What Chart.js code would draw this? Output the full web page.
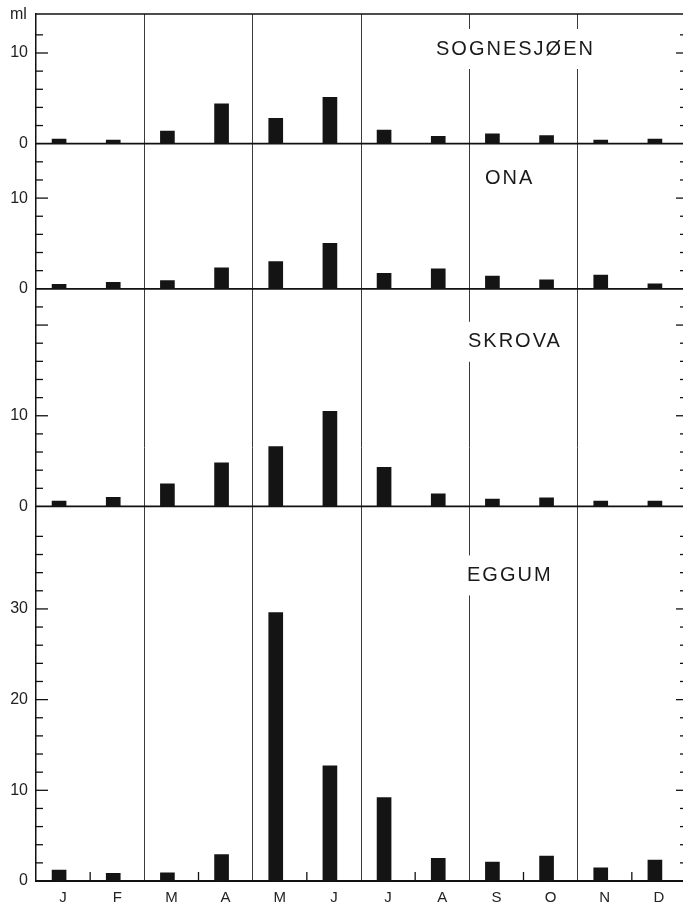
<!DOCTYPE html>
<html><head><meta charset="utf-8">
<script src="https://cdn.jsdelivr.net/npm/chart.js@4/dist/chart.umd.min.js"></script>
<style>
html,body{margin:0;padding:0;background:#fff;overflow:hidden;width:683px;height:906px;}
#wrap{position:absolute;left:0;top:0;width:690px;height:906px;}
</style></head><body>
<div id="wrap"><canvas id="c"></canvas></div>
<script>
// ---- data ----
const months = ['J','F','M','A','M','J','J','A','S','O','N','D'];
const stations = ['SOGNESJØEN','ONA','SKROVA','EGGUM'];
const sognesjoen = [0.5,0.4,1.4,4.4,2.8,5.1,1.5,0.8,1.1,0.9,0.4,0.5];
const ona        = [0.5,0.7,0.9,2.3,3.0,5.0,1.7,2.2,1.4,1.0,1.5,0.55];
const skrova     = [0.6,1.0,2.5,4.8,6.6,10.5,4.3,1.4,0.8,0.95,0.6,0.6];
const eggum      = [1.2,0.85,0.9,2.9,29.6,12.7,9.2,2.5,2.1,2.75,1.45,2.3];
const axisMax    = [14.3,16,24,41.3];
const tickTop    = [12,14,22,38];
const tickLabels = [[0,10],[0,10],[0,10],[0,10,20,30]];
const unitLabel  = 'ml';

// ---- style ----
const series = [sognesjoen, ona, skrova, eggum];
const axisIds = ['ySogn','yOna','ySkrova','yEggum'];
const barShift = 0.074;
const labelPos = [{x:436,dy:35},{x:485,dy:35},{x:468,dy:53},{x:467,dy:69}];
const FONT = 'Liberation Sans';

function yScale(p){
  return {
    type:'linear', position:'left', stack:'panels', stackWeight:axisMax[p],
    min:0, max:axisMax[p], offset:false,
    grid:{display:false, drawTicks:false},
    border:{display:true, color:'#111', width:1.5},
    ticks:{stepSize:2, includeBounds:false, autoSkip:false, padding:8, color:'#222',
      font:{family:FONT, size:16},
      callback:(v)=> v>tickTop[p] ? null : (tickLabels[p].includes(v) ? String(v) : '')},
    afterFit:(s)=>{ s.width = 36; s.paddingTop = 0; s.paddingBottom = 0; }
  };
}

const scales = {
  x:{type:'category', labels:months, offset:true, position:'bottom',
     grid:{offset:true, drawTicks:false, lineWidth:1,
       color:(ctx)=> (ctx.index>0 && ctx.index<12 && ctx.index%2===0) ? '#3a3a3a' : 'rgba(0,0,0,0)'},
     border:{display:false},
     ticks:{color:'#222', font:{family:FONT, size:15}, padding:8, maxRotation:0, autoSkip:false},
     afterFit:(s)=>{ s.height = 25; s.paddingLeft = 0; s.paddingRight = 0; }},
  xb:{type:'linear', display:false, position:'bottom', offset:false, grid:{offset:false},
      min:-0.5+barShift, max:11.5+barShift}
};
[3,2,1,0].forEach(p=>{ scales[axisIds[p]] = yScale(p); });

function line(ctx,x1,y1,x2,y2){ ctx.beginPath(); ctx.moveTo(x1,y1); ctx.lineTo(x2,y2); ctx.stroke(); }

const decor = {
  id:'decor',
  beforeDatasetsDraw(chart){
    const {ctx, chartArea:a} = chart;
    ctx.save();
    ctx.strokeStyle = '#111';
    axisIds.forEach(id=>{
      const s = chart.scales[id];
      const y0 = s.getPixelForValue(0);
      ctx.lineWidth = 1.8;
      line(ctx, a.left, y0, a.right, y0);
      s.ticks.forEach(t=>{
        if (t.label === null || t.value <= 0) return;
        const yy = s.getPixelForValue(t.value);
        const major = t.value % 10 === 0;
        ctx.lineWidth = 1.3;
        line(ctx, a.left, yy, a.left + (major?12:7), yy);
        line(ctx, a.right, yy, a.right - (major?10:6), yy);
      });
    });
    ctx.lineWidth = 1.5;
    line(ctx, a.left, a.top, a.right, a.top);
    // small month ticks at bottom
    const xs = chart.scales.x;
    ctx.lineWidth = 1.3;
    for (let i=1;i<12;i+=2){
      const xx = (xs.getPixelForTick(i-1) + xs.getPixelForTick(i))/2;
      line(ctx, xx, a.bottom, xx, a.bottom-9);
    }
    // panel labels
    ctx.font = '20px "' + FONT + '"';
    ctx.letterSpacing = '2px';
    ctx.textBaseline = 'middle';
    ctx.textAlign = 'left';
    axisIds.forEach((id,p)=>{
      const s = chart.scales[id];
      const yc = s.top + labelPos[p].dy;
      const w = ctx.measureText(stations[p]).width;
      ctx.fillStyle = '#fff';
      ctx.fillRect(labelPos[p].x-4, yc-20, w+8, 40);
      ctx.fillStyle = '#1a1a1a';
      ctx.fillText(stations[p], labelPos[p].x, yc);
    });
    ctx.letterSpacing = '0px';
    ctx.font = '16px "' + FONT + '"';
    ctx.fillStyle = '#222';
    ctx.textBaseline = 'alphabetic';
    ctx.fillText(unitLabel, 10, 19);
    ctx.restore();
  }
};

new Chart(document.getElementById('c'), {
  type:'bar',
  data:{
    datasets: series.map((vals,p)=>({
      label: stations[p],
      data: vals.map((v,i)=>({x:i, y:v})),
      xAxisID:'xb', yAxisID:axisIds[p],
      backgroundColor:'#141414', borderWidth:0,
      barThickness:14, grouped:false
    }))
  },
  options:{
    responsive:true, maintainAspectRatio:false, animation:false,
    layout:{padding:{top:14, right:4, left:0, bottom:0}},
    plugins:{legend:{display:false}, tooltip:{enabled:false}},
    scales
  },
  plugins:[decor]
});
</script>
</body></html>
